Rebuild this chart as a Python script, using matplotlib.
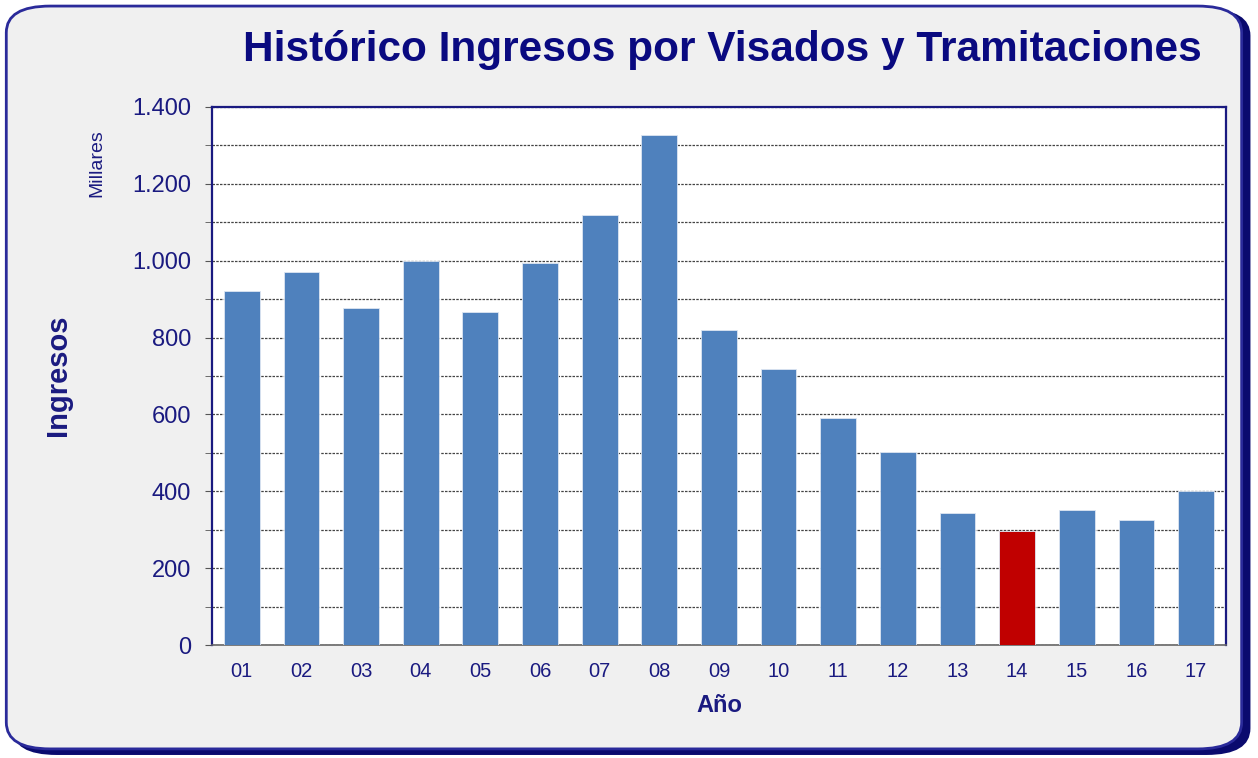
import matplotlib
matplotlib.use('Agg')
import matplotlib.pyplot as plt
from matplotlib.patches import FancyBboxPatch
from matplotlib.ticker import FuncFormatter, MultipleLocator

plt.rcParams['font.family'] = ['Liberation Sans', 'DejaVu Sans']

# datos (miles de euros)
anios = ['01', '02', '03', '04', '05', '06', '07', '08', '09',
         '10', '11', '12', '13', '14', '15', '16', '17']
ingresos = [920, 970, 877, 1000, 866, 994, 1119, 1327, 820,
            718, 591, 502, 343, 297, 351, 325, 401]
destacado = '14'

navy = '#1a1a80'
azul = '#4f81bd'
rojo = '#c00000'

fig = plt.figure(figsize=(12.58, 7.58), dpi=100)
fig.patch.set_facecolor('white')

# sombra y caja redondeada de fondo
sombra = FancyBboxPatch((0.010, 0.004), 0.984, 0.984,
                        boxstyle='round,pad=0,rounding_size=0.035',
                        transform=fig.transFigure, facecolor='#0a0a6e',
                        edgecolor='none', zorder=0)
caja = FancyBboxPatch((0.005, 0.012), 0.982, 0.98,
                      boxstyle='round,pad=0,rounding_size=0.035',
                      transform=fig.transFigure, facecolor='#f0f0f0',
                      edgecolor='#2a2a9a', linewidth=2, zorder=1)
fig.patches.extend([sombra, caja])

ax = fig.add_axes([0.1685, 0.149, 0.806, 0.71])
ax.set_zorder(2)
ax.set_facecolor('white')

colores = [rojo if a == destacado else azul for a in anios]
x = range(len(anios))
ax.bar(x, ingresos, width=0.6, color=colores, edgecolor='#dde6f2',
       linewidth=0.6, zorder=3)

ax.set_xlim(-0.5, len(anios) - 0.5)
ax.set_ylim(0, 1400)
ax.yaxis.set_major_locator(MultipleLocator(200))
ax.yaxis.set_minor_locator(MultipleLocator(100))
ax.yaxis.set_major_formatter(FuncFormatter(lambda v, p: f'{int(v):,}'.replace(',', '.')))
ax.set_xticks(list(x))
ax.set_xticklabels(anios)

ax.grid(axis='y', which='both', linestyle=(0, (2, 1)), color='#444444',
        linewidth=0.9, zorder=0)
ax.set_axisbelow(True)

ax.tick_params(axis='y', which='both', direction='out', length=5,
               color='#555555', labelsize=17, labelcolor=navy, pad=10)
ax.tick_params(axis='x', length=0, labelsize=14.5, labelcolor=navy, pad=12)

for lado in ['left', 'top', 'right']:
    ax.spines[lado].set_color(navy)
    ax.spines[lado].set_linewidth(1.6)
ax.spines['bottom'].set_color('#666666')
ax.spines['bottom'].set_linewidth(1.2)

fig.text(0.574, 0.934, 'Histórico Ingresos por Visados y Tramitaciones',
         ha='center', va='center', fontsize=30.5, fontweight='bold', color='#0a0a80')
fig.text(0.046, 0.505, 'Ingresos', rotation=90, ha='center', va='center',
         fontsize=21, fontweight='bold', color=navy)
fig.text(0.077, 0.785, 'Millares', rotation=90, ha='center', va='center',
         fontsize=14, color=navy)
fig.text(0.572, 0.069, 'Año', ha='center', va='center',
         fontsize=17, fontweight='bold', color=navy)

fig.savefig('out.png', dpi=100, facecolor=fig.get_facecolor())
